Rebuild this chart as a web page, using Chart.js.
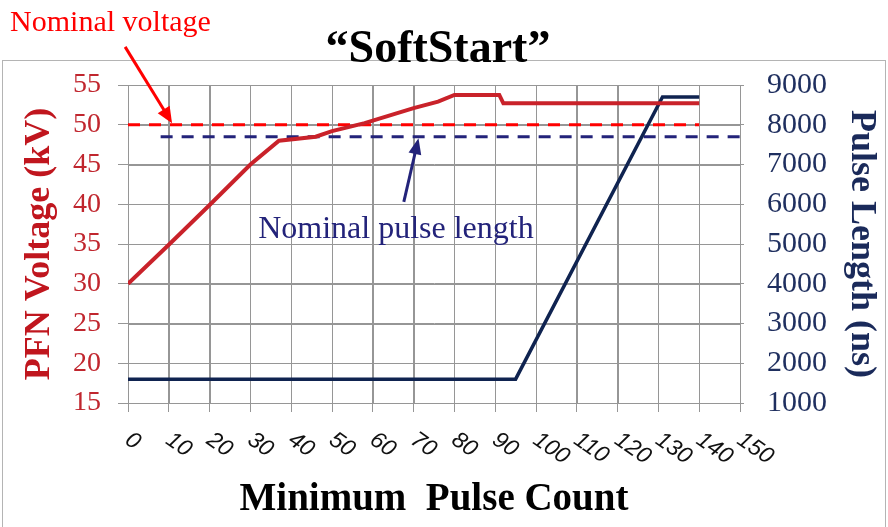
<!DOCTYPE html>
<html>
<head>
<meta charset="utf-8">
<script src="https://cdn.jsdelivr.net/npm/chart.js@4.4.0/dist/chart.umd.min.js"></script>
<style>
  html, body { margin: 0; padding: 0; background: #fff; }
  #wrap { width: 888px; height: 527px; }
</style>
</head>
<body>
<div id="wrap"><canvas id="myChart" width="888" height="527"></canvas></div>
<script>
const voltageCount = [0, 10, 20, 30, 37, 46, 50, 58, 63, 70, 76, 80, 91, 92, 140];
const voltageKV = [30, 34.9, 39.9, 45, 48, 48.5, 49.2, 50.2, 51, 52.1, 52.9, 53.75, 53.75, 52.7, 52.7];
const pulseCount = [0, 95, 131, 140];
const pulseNs = [1600, 1600, 8700, 8700];
const nominalVoltageCount = [0, 140];
const nominalVoltage = [50, 50];
const nominalPulseCount = [8, 150];
const nominalPulse = [7700, 7700];
const xTicks = [0, 10, 20, 30, 40, 50, 60, 70, 80, 90, 100, 110, 120, 130, 140, 150];
const kvTicks = [15, 20, 25, 30, 35, 40, 45, 50, 55];

// anotaciones (en coordenadas de datos: x, kV)
const voltArrow = [-0.7, 59.8, 10.8, 50.2];
const pulseArrow = [67.6, 40.3, 71.2, 48.3];
const voltLabel = [-28.9, 61.8];
const pulseLabel = [31.9, 35.75];

const RED = '#c9222a';
const NAVY = '#0f2350';
const GRID = '#969696';
const SERIF = '"Liberation Serif", "Times New Roman", serif';

const pts = (xs, ys) => xs.map((v, i) => ({ x: v, y: ys[i] }));

function arrow(ctx, x0, y0, x1, y1, color, w, hl, hw) {
    const a = Math.atan2(y1 - y0, x1 - x0);
    ctx.save();
    ctx.strokeStyle = color;
    ctx.fillStyle = color;
    ctx.lineWidth = w;
    ctx.beginPath();
    ctx.moveTo(x0, y0);
    ctx.lineTo(x1 - Math.cos(a) * hl * 0.8, y1 - Math.sin(a) * hl * 0.8);
    ctx.stroke();
    ctx.translate(x1, y1);
    ctx.rotate(a);
    ctx.beginPath();
    ctx.moveTo(0, 0);
    ctx.lineTo(-hl, -hw / 2);
    ctx.lineTo(-hl, hw / 2);
    ctx.closePath();
    ctx.fill();
    ctx.restore();
}

const decor = {
    id: 'decor',
    beforeDraw(chart) {
        const ctx = chart.ctx;
        ctx.save();
        ctx.fillStyle = '#fff';
        ctx.fillRect(0, 0, chart.width, chart.height);
        ctx.strokeStyle = '#b4b4b4';
        ctx.lineWidth = 1;
        ctx.strokeRect(2.5, 60.5, 883, 480);
        ctx.restore();
    },
    beforeDatasetsDraw(chart) {
        // rejilla dentro del área del gráfico
        const ctx = chart.ctx;
        const a = chart.chartArea;
        const sx = chart.scales.x, sy = chart.scales.y;
        const L = Math.round(a.left), R = Math.round(a.right);
        const T = Math.round(a.top), B = Math.round(a.bottom);
        ctx.save();
        ctx.fillStyle = GRID;
        xTicks.forEach(v => {
            const px = Math.round(sx.getPixelForValue(v));
            ctx.fillRect(px, T, 1, B - T + 1);
        });
        kvTicks.forEach(v => {
            const py = Math.round(sy.getPixelForValue(v));
            ctx.fillRect(L, py, R - L + 1, 1);
        });
        ctx.restore();
    },
    afterDraw(chart) {
        const ctx = chart.ctx;
        const sx = chart.scales.x, sy = chart.scales.y;
        ctx.save();
        // título
        ctx.fillStyle = '#000';
        ctx.font = 'bold 46px ' + SERIF;
        ctx.textAlign = 'center';
        ctx.textBaseline = 'alphabetic';
        ctx.fillText('\u201CSoftStart\u201D', 438, 62);

        // etiquetas del eje x, giradas
        ctx.font = 'italic 23px "Liberation Sans", Arial, sans-serif';
        ctx.fillStyle = '#111';
        xTicks.forEach(v => {
            const px = sx.getPixelForValue(v);
            ctx.save();
            ctx.translate(px + 6, 428);
            ctx.rotate(35 * Math.PI / 180);
            ctx.textAlign = 'left';
            ctx.textBaseline = 'top';
            ctx.fillText(String(v), 0, 0);
            ctx.restore();
        });

        // flechas
        arrow(ctx, sx.getPixelForValue(voltArrow[0]), sy.getPixelForValue(voltArrow[1]),
            sx.getPixelForValue(voltArrow[2]), sy.getPixelForValue(voltArrow[3]), '#ff0000', 3, 16, 14);
        arrow(ctx, sx.getPixelForValue(pulseArrow[0]), sy.getPixelForValue(pulseArrow[1]),
            sx.getPixelForValue(pulseArrow[2]), sy.getPixelForValue(pulseArrow[3]), '#23237a', 3, 16, 13);

        // textos
        ctx.textAlign = 'left';
        ctx.textBaseline = 'alphabetic';
        ctx.font = '30px ' + SERIF;
        ctx.fillStyle = '#ff0000';
        ctx.fillText('Nominal voltage', sx.getPixelForValue(voltLabel[0]), sy.getPixelForValue(voltLabel[1]));
        ctx.font = '32px ' + SERIF;
        ctx.fillStyle = '#23237a';
        ctx.fillText('Nominal pulse length', sx.getPixelForValue(pulseLabel[0]), sy.getPixelForValue(pulseLabel[1]));
        ctx.restore();
    }
};

const ctx = document.getElementById('myChart').getContext('2d');
const myChart = new Chart(ctx, {
    type: 'line',
    data: {
        datasets: [
            {
                label: 'PFN Voltage',
                data: pts(voltageCount, voltageKV),
                yAxisID: 'y',
                borderColor: RED,
                borderWidth: 4,
                pointRadius: 0,
                fill: false
            },
            {
                label: 'Pulse Length',
                data: pts(pulseCount, pulseNs),
                yAxisID: 'y2',
                borderColor: NAVY,
                borderWidth: 3.5,
                pointRadius: 0,
                fill: false
            },
            {
                label: 'Nominal voltage',
                data: pts(nominalVoltageCount, nominalVoltage),
                yAxisID: 'y',
                borderColor: '#ff0000',
                borderWidth: 3,
                borderDash: [12, 9],
                pointRadius: 0,
                fill: false
            },
            {
                label: 'Nominal pulse length',
                data: pts(nominalPulseCount, nominalPulse),
                yAxisID: 'y2',
                borderColor: '#23237a',
                borderWidth: 3,
                borderDash: [12, 9],
                pointRadius: 0,
                fill: false
            }
        ]
    },
    options: {
        responsive: false,
        animation: false,
        layout: { padding: { top: 85, left: 0, right: 0, bottom: 0 } },
        plugins: {
            legend: { display: false },
            title: { display: false },
            tooltip: { enabled: false }
        },
        scales: {
            x: {
                type: 'linear',
                min: 0,
                max: 150,
                ticks: { stepSize: 10, display: false },
                grid: { color: GRID, lineWidth: 1, tickLength: 9 },
                border: { color: GRID },
                title: {
                    display: true,
                    text: 'Minimum  Pulse Count',
                    color: '#000',
                    font: { family: SERIF, size: 39, weight: 'bold' },
                    padding: { top: 0, bottom: 4 }
                },
                afterFit: s => { s.height = 124; }
            },
            y: {
                position: 'left',
                min: 15,
                max: 55,
                ticks: { stepSize: 5, color: '#c0262e', padding: 17, font: { family: SERIF, size: 28 } },
                grid: { color: GRID, lineWidth: 1, tickLength: 10 },
                border: { color: GRID },
                title: {
                    display: true,
                    text: 'PFN Voltage (kV)',
                    color: '#c0161e',
                    font: { family: SERIF, size: 36, weight: 'bold' },
                    padding: { top: 18, bottom: 0 }
                },
                afterFit: s => { s.width = 128; }
            },
            y2: {
                position: 'right',
                min: 1000,
                max: 9000,
                ticks: {
                    stepSize: 1000, color: '#1f2f5f', padding: 23,
                    font: { family: SERIF, size: 30 },
                    callback: v => String(v)
                },
                grid: { drawOnChartArea: false, color: GRID, tickLength: 4 },
                border: { color: GRID },
                title: {
                    display: true,
                    text: 'Pulse Length (ns)',
                    color: '#1a2a5a',
                    font: { family: SERIF, size: 36, weight: 'bold' },
                    padding: { top: 5, bottom: 0 }
                },
                afterFit: s => { s.width = 148; }
            }
        }
    },
    plugins: [decor]
});
</script>
</body>
</html>
